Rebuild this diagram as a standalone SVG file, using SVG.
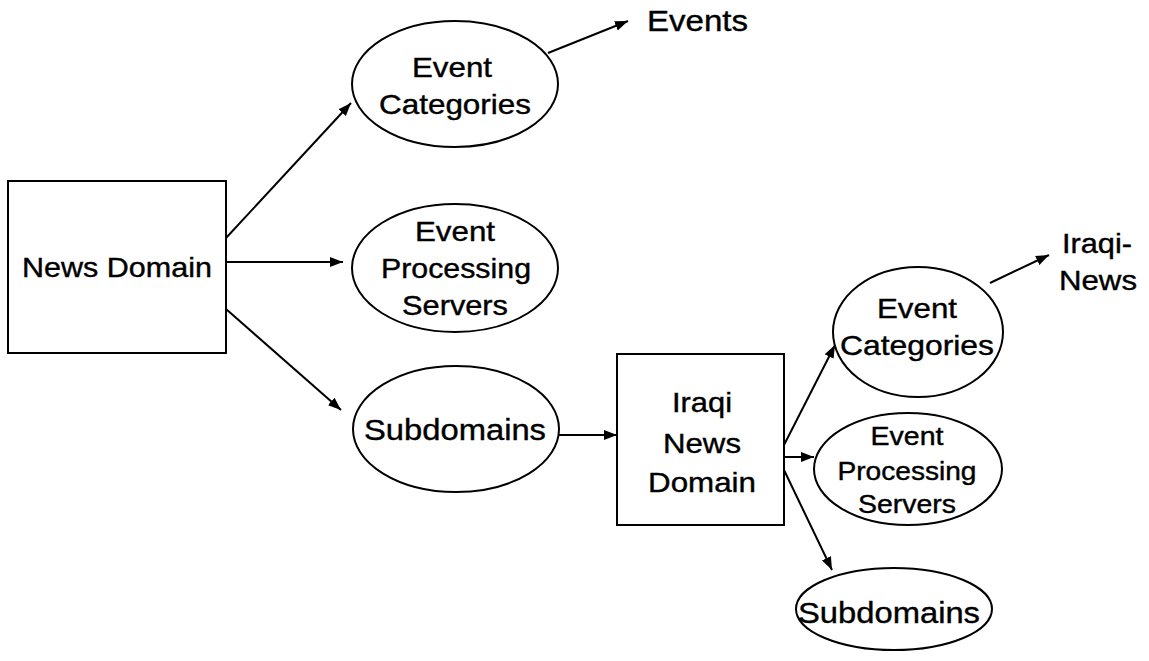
<svg xmlns="http://www.w3.org/2000/svg" width="1149" height="661" viewBox="0 0 1149 661">
  <style>
    .shape { fill: #ffffff; stroke: #000000; stroke-width: 2; }
    .link { fill: none; stroke: #000000; stroke-width: 2; marker-end: url(#arrow); }
    text { font-family: "Liberation Sans", Arial, sans-serif; fill: #000000; stroke: #000000; stroke-width: 0.4; text-anchor: middle; }
    .t30 { font-size: 30px; }
    .t28 { font-size: 28px; }
    .t26 { font-size: 26px; }
    .plain { text-anchor: start; }
  </style>
  <defs>
    <marker id="arrow" markerUnits="userSpaceOnUse" markerWidth="14" markerHeight="11" refX="13" refY="5.5" orient="auto">
      <path d="M0,0.5 L13,5.5 L0,10.5 z" fill="#000000"/>
    </marker>
  </defs>
  <rect width="1149" height="661" fill="#ffffff"/>

  <!-- connectors -->
  <g id="connectors">
    <line class="link" x1="226" y1="238" x2="351" y2="103"/>
    <line class="link" x1="226" y1="262" x2="343" y2="262"/>
    <line class="link" x1="226" y1="309" x2="341" y2="410"/>
    <line class="link" x1="548" y1="53" x2="628" y2="21"/>
    <line class="link" x1="558" y1="435" x2="617" y2="435"/>
    <line class="link" x1="784" y1="445" x2="835" y2="345"/>
    <line class="link" x1="784" y1="457" x2="814" y2="457"/>
    <line class="link" x1="784" y1="470" x2="832" y2="570"/>
    <line class="link" x1="990" y1="283" x2="1049" y2="255"/>
  </g>

  <!-- top-level domain -->
  <g id="news-domain">
    <rect class="shape" x="8" y="181" width="218" height="172"/>
    <text class="t28" x="117" y="277" textLength="190" lengthAdjust="spacingAndGlyphs">News Domain</text>
  </g>

  <g id="event-categories">
    <ellipse class="shape" cx="455" cy="84" rx="103" ry="63"/>
    <text class="t28" x="452" y="77" textLength="80" lengthAdjust="spacingAndGlyphs">Event</text>
    <text class="t28" x="455" y="114" textLength="152" lengthAdjust="spacingAndGlyphs">Categories</text>
  </g>

  <g id="events">
    <text class="t30 plain" x="647" y="31" textLength="101" lengthAdjust="spacingAndGlyphs">Events</text>
  </g>

  <g id="event-processing-servers">
    <ellipse class="shape" cx="455" cy="268" rx="103" ry="64"/>
    <text class="t28" x="455" y="241" textLength="80" lengthAdjust="spacingAndGlyphs">Event</text>
    <text class="t28" x="456" y="278" textLength="150" lengthAdjust="spacingAndGlyphs">Processing</text>
    <text class="t28" x="455" y="315" textLength="106" lengthAdjust="spacingAndGlyphs">Servers</text>
  </g>

  <g id="subdomains">
    <ellipse class="shape" cx="456" cy="429" rx="103" ry="63"/>
    <text class="t30" x="455" y="440" textLength="182" lengthAdjust="spacingAndGlyphs">Subdomains</text>
  </g>

  <!-- nested domain -->
  <g id="iraqi-news-domain">
    <rect class="shape" x="617" y="354" width="167" height="171"/>
    <text class="t28" x="702" y="412" textLength="60" lengthAdjust="spacingAndGlyphs">Iraqi</text>
    <text class="t28" x="702" y="453" textLength="78" lengthAdjust="spacingAndGlyphs">News</text>
    <text class="t28" x="702" y="492" textLength="108" lengthAdjust="spacingAndGlyphs">Domain</text>
  </g>

  <g id="iraqi-event-categories">
    <ellipse class="shape" cx="918" cy="332" rx="85" ry="65"/>
    <text class="t28" x="917" y="318" textLength="80" lengthAdjust="spacingAndGlyphs">Event</text>
    <text class="t28" x="917" y="355" textLength="154" lengthAdjust="spacingAndGlyphs">Categories</text>
  </g>

  <g id="iraqi-news">
    <text class="t28 plain" x="1062" y="253" textLength="70" lengthAdjust="spacingAndGlyphs">Iraqi-</text>
    <text class="t28 plain" x="1059" y="290" textLength="78" lengthAdjust="spacingAndGlyphs">News</text>
  </g>

  <g id="iraqi-event-processing-servers">
    <ellipse class="shape" cx="908" cy="469" rx="94" ry="56"/>
    <text class="t26" x="907" y="445" textLength="73" lengthAdjust="spacingAndGlyphs">Event</text>
    <text class="t26" x="907" y="480" textLength="139" lengthAdjust="spacingAndGlyphs">Processing</text>
    <text class="t26" x="907" y="513" textLength="98" lengthAdjust="spacingAndGlyphs">Servers</text>
  </g>

  <g id="iraqi-subdomains">
    <ellipse class="shape" cx="894" cy="609" rx="98" ry="41"/>
    <text class="t30" x="889" y="623" textLength="182" lengthAdjust="spacingAndGlyphs">Subdomains</text>
  </g>
</svg>
